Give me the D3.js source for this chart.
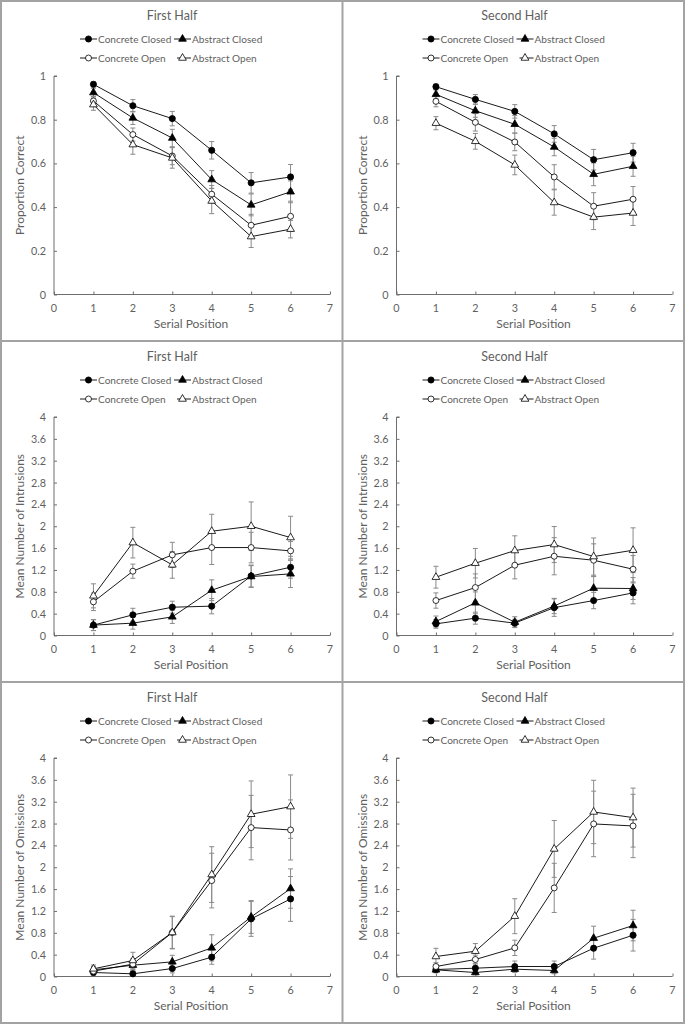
<!DOCTYPE html>
<html lang="en">
  <head>
    <meta charset="UTF-8" />
    <title>Serial Position</title>
    <script src="https://d3js.org/d3.v7.min.js"></script>
    <style>
      body { margin: 0; background: #fff; }
      svg text { font-family: Lato, "Open Sans", sans-serif; fill: #5f5f5f; }
      .axis path, .axis line { stroke: #6e6e6e; }
    </style>
  </head>
  <body>
    <svg width="685" height="1026"></svg>
    <script>
      // series order: Concrete Closed, Abstract Closed, Concrete Open, Abstract Open
      const seriesNames = ["Concrete Closed", "Abstract Closed", "Concrete Open", "Abstract Open"];
      const positions = [1, 2, 3, 4, 5, 6];
      const halves = ["First Half", "Second Half"];

      const correctFirst = [
        [0.962, 0.864, 0.805, 0.660, 0.511, 0.538],
        [0.924, 0.808, 0.716, 0.526, 0.410, 0.470],
        [0.886, 0.732, 0.634, 0.459, 0.317, 0.358],
        [0.869, 0.686, 0.625, 0.428, 0.265, 0.299]
      ];
      const correctFirstErr = [
        [0.012, 0.028, 0.033, 0.040, 0.047, 0.057],
        [0.020, 0.030, 0.040, 0.041, 0.050, 0.050],
        [0.020, 0.030, 0.040, 0.040, 0.050, 0.069],
        [0.026, 0.044, 0.047, 0.058, 0.050, 0.040]
      ];
      const correctSecond = [
        [0.951, 0.893, 0.838, 0.735, 0.617, 0.649],
        [0.916, 0.841, 0.779, 0.675, 0.550, 0.587],
        [0.884, 0.788, 0.698, 0.538, 0.404, 0.436],
        [0.784, 0.701, 0.593, 0.421, 0.354, 0.373]
      ];
      const correctSecondErr = [
        [0.012, 0.022, 0.031, 0.038, 0.047, 0.043],
        [0.020, 0.030, 0.040, 0.040, 0.052, 0.046],
        [0.025, 0.040, 0.040, 0.056, 0.062, 0.058],
        [0.030, 0.036, 0.045, 0.058, 0.057, 0.057]
      ];

      const intrusionsFirst = [
        [0.19, 0.378, 0.518, 0.537, 1.09, 1.25],
        [0.19, 0.226, 0.341, 0.829, 1.079, 1.128],
        [0.616, 1.177, 1.476, 1.61, 1.61, 1.549],
        [0.726, 1.70, 1.293, 1.909, 2.0, 1.793]
      ];
      const intrusionsFirstErr = [
        [0.10, 0.12, 0.11, 0.14, 0.20, 0.20],
        [0.10, 0.11, 0.12, 0.19, 0.20, 0.25],
        [0.16, 0.13, 0.23, 0.31, 0.28, 0.17],
        [0.22, 0.28, 0.245, 0.31, 0.445, 0.39]
      ];
      const intrusionsSecond = [
        [0.213, 0.317, 0.226, 0.51, 0.64, 0.78],
        [0.256, 0.598, 0.244, 0.54, 0.866, 0.86],
        [0.64, 0.878, 1.287, 1.451, 1.378, 1.213],
        [1.067, 1.323, 1.555, 1.665, 1.445, 1.561]
      ];
      const intrusionsSecondErr = [
        [0.08, 0.11, 0.07, 0.16, 0.15, 0.20],
        [0.10, 0.20, 0.10, 0.14, 0.22, 0.20],
        [0.14, 0.25, 0.25, 0.34, 0.30, 0.25],
        [0.20, 0.27, 0.27, 0.33, 0.34, 0.41]
      ];

      const omissionsFirst = [
        [0.073, 0.049, 0.146, 0.354, 1.055, 1.42],
        [0.122, 0.207, 0.268, 0.524, 1.09, 1.61],
        [0.098, 0.226, 0.805, 1.756, 2.726, 2.683],
        [0.14, 0.293, 0.805, 1.866, 2.97, 3.11]
      ];
      const omissionsFirstErr = [
        [0.05, 0.04, 0.08, 0.13, 0.32, 0.41],
        [0.06, 0.10, 0.12, 0.24, 0.30, 0.36],
        [0.06, 0.10, 0.30, 0.50, 0.59, 0.55],
        [0.07, 0.15, 0.29, 0.51, 0.61, 0.58]
      ];
      const omissionsSecond = [
        [0.128, 0.152, 0.183, 0.183, 0.518, 0.756],
        [0.122, 0.073, 0.134, 0.11, 0.701, 0.933],
        [0.183, 0.311, 0.524, 1.622, 2.793, 2.756],
        [0.366, 0.463, 1.104, 2.335, 3.012, 2.909]
      ];
      const omissionsSecondErr = [
        [0.06, 0.08, 0.10, 0.10, 0.20, 0.29],
        [0.05, 0.04, 0.06, 0.06, 0.22, 0.28],
        [0.07, 0.08, 0.14, 0.45, 0.60, 0.58],
        [0.15, 0.14, 0.32, 0.52, 0.58, 0.54]
      ];

      const correctTicks = [0, 0.2, 0.4, 0.6, 0.8, 1];
      const countTicks = [0, 0.4, 0.8, 1.2, 1.6, 2, 2.4, 2.8, 3.2, 3.6, 4];
      const xTicks = [0, 1, 2, 3, 4, 5, 6, 7];

      const panels = [
        { title: halves[0], label: "Proportion Correct", max: 1, ticks: correctTicks, means: correctFirst, errs: correctFirstErr },
        { title: halves[1], label: "Proportion Correct", max: 1, ticks: correctTicks, means: correctSecond, errs: correctSecondErr },
        { title: halves[0], label: "Mean Number of Intrusions", max: 4, ticks: countTicks, means: intrusionsFirst, errs: intrusionsFirstErr },
        { title: halves[1], label: "Mean Number of Intrusions", max: 4, ticks: countTicks, means: intrusionsSecond, errs: intrusionsSecondErr },
        { title: halves[0], label: "Mean Number of Omissions", max: 4, ticks: countTicks, means: omissionsFirst, errs: omissionsFirstErr },
        { title: halves[1], label: "Mean Number of Omissions", max: 4, ticks: countTicks, means: omissionsSecond, errs: omissionsSecondErr }
      ];

      const svg = d3.select("svg");
      const panelW = 342.5, panelH = 341;
      const plot = { left: 54, right: 330, top: 76, bottom: 294.5 };

      // filled circle, filled triangle, open circle, open triangle
      const markerShape = [d3.symbolCircle, d3.symbolTriangle, d3.symbolCircle, d3.symbolTriangle];
      const markerSize = [30, 26, 28, 26];
      const markerFill = ["#000", "#000", "#fff", "#fff"];

      function drawMarker(sel, i) {
        sel.append("path")
          .attr("d", d3.symbol().type(markerShape[i]).size(markerSize[i]))
          .attr("fill", markerFill[i])
          .attr("stroke", "#000")
          .attr("stroke-width", 0.8);
      }

      panels.forEach(function (p, k) {
        const col = k % 2, row = Math.floor(k / 2);
        const g = svg.append("g")
          .attr("transform", `translate(${col * panelW},${row * panelH})`);

        const x = d3.scaleLinear().domain([0, 7]).range([plot.left, plot.right]);
        const y = d3.scaleLinear().domain([0, p.max]).range([plot.bottom, plot.top]);

        // title
        g.append("text")
          .attr("x", 172).attr("y", 20)
          .attr("text-anchor", "middle")
          .style("font-size", "12.5px")
          .text(p.title);

        // legend
        const legendPos = [[80, 39], [174, 39], [80, 58], [174, 58]];
        seriesNames.forEach(function (name, i) {
          const lg = g.append("g")
            .attr("transform", `translate(${legendPos[i][0]},${legendPos[i][1]})`);
          lg.append("line")
            .attr("x1", i === 3 ? 3 : 0).attr("x2", 17)
            .attr("stroke", "#000").attr("stroke-width", 0.9);
          drawMarker(lg.append("g").attr("transform", "translate(8.5,0)"), i);
          lg.append("text")
            .attr("x", 18).attr("y", 3.8)
            .style("font-size", "10.1px")
            .text(name);
        });

        // axes
        const yAxis = g.append("g")
          .attr("class", "axis")
          .attr("transform", `translate(${plot.left},0)`)
          .call(d3.axisRight(y).tickValues(p.ticks).tickSize(3).tickFormat(""));
        yAxis.select(".domain").attr("d", `M3,${plot.top}H0V${plot.bottom}`);
        g.selectAll(null)
          .data(p.ticks)
          .enter()
          .append("text")
          .attr("x", plot.left - 8)
          .attr("y", d => y(d) + 4)
          .attr("text-anchor", "end")
          .style("font-size", "10.8px")
          .text(d => d3.format("~g")(d));

        const xAxis = g.append("g")
          .attr("class", "axis")
          .attr("transform", `translate(0,${plot.bottom})`)
          .call(d3.axisTop(x).tickValues(xTicks).tickSize(3).tickFormat(""));
        xAxis.select(".domain").attr("d", `M${plot.left},0H${plot.right}`);
        g.selectAll(null)
          .data(xTicks)
          .enter()
          .append("text")
          .attr("x", d => x(d))
          .attr("y", plot.bottom + 17)
          .attr("text-anchor", "middle")
          .style("font-size", "10.8px")
          .text(d => d);

        g.append("text")
          .attr("x", 191).attr("y", 328)
          .attr("text-anchor", "middle")
          .style("font-size", "12px")
          .text("Serial Position");
        g.append("text")
          .attr("transform", `translate(24,${(plot.top + plot.bottom) / 2}) rotate(-90)`)
          .attr("text-anchor", "middle")
          .style("font-size", "12px")
          .text(p.label);

        // error bars
        p.means.forEach(function (vals, i) {
          const eg = g.append("g").attr("stroke", "#8a8a8a").attr("stroke-width", 1);
          vals.forEach(function (v, j) {
            const e = p.errs[i][j];
            const cx = x(positions[j]);
            eg.append("line").attr("x1", cx).attr("x2", cx).attr("y1", y(v - e)).attr("y2", y(v + e));
            eg.append("line").attr("x1", cx - 2.5).attr("x2", cx + 2.5).attr("y1", y(v - e)).attr("y2", y(v - e));
            eg.append("line").attr("x1", cx - 2.5).attr("x2", cx + 2.5).attr("y1", y(v + e)).attr("y2", y(v + e));
          });
        });

        // lines
        const line = d3.line().x((d, j) => x(positions[j])).y(d => y(d));
        p.means.forEach(function (vals) {
          g.append("path")
            .attr("d", line(vals))
            .attr("fill", "none")
            .attr("stroke", "#000")
            .attr("stroke-width", 0.9);
        });

        // markers
        p.means.forEach(function (vals, i) {
          vals.forEach(function (v, j) {
            drawMarker(g.append("g").attr("transform", `translate(${x(positions[j])},${y(v)})`), i);
          });
        });
      });

      // panel borders
      const border = svg.append("g").attr("stroke", "#a3a3a3").attr("stroke-width", 2).attr("fill", "none");
      border.append("rect").attr("x", 1).attr("y", 1).attr("width", 683).attr("height", 1022);
      border.append("line").attr("x1", panelW).attr("x2", panelW).attr("y1", 0).attr("y2", 1024);
      [1, 2].forEach(function (r) {
        border.append("line").attr("x1", 0).attr("x2", 685).attr("y1", r * panelH).attr("y2", r * panelH);
      });
    </script>
  </body>
</html>
